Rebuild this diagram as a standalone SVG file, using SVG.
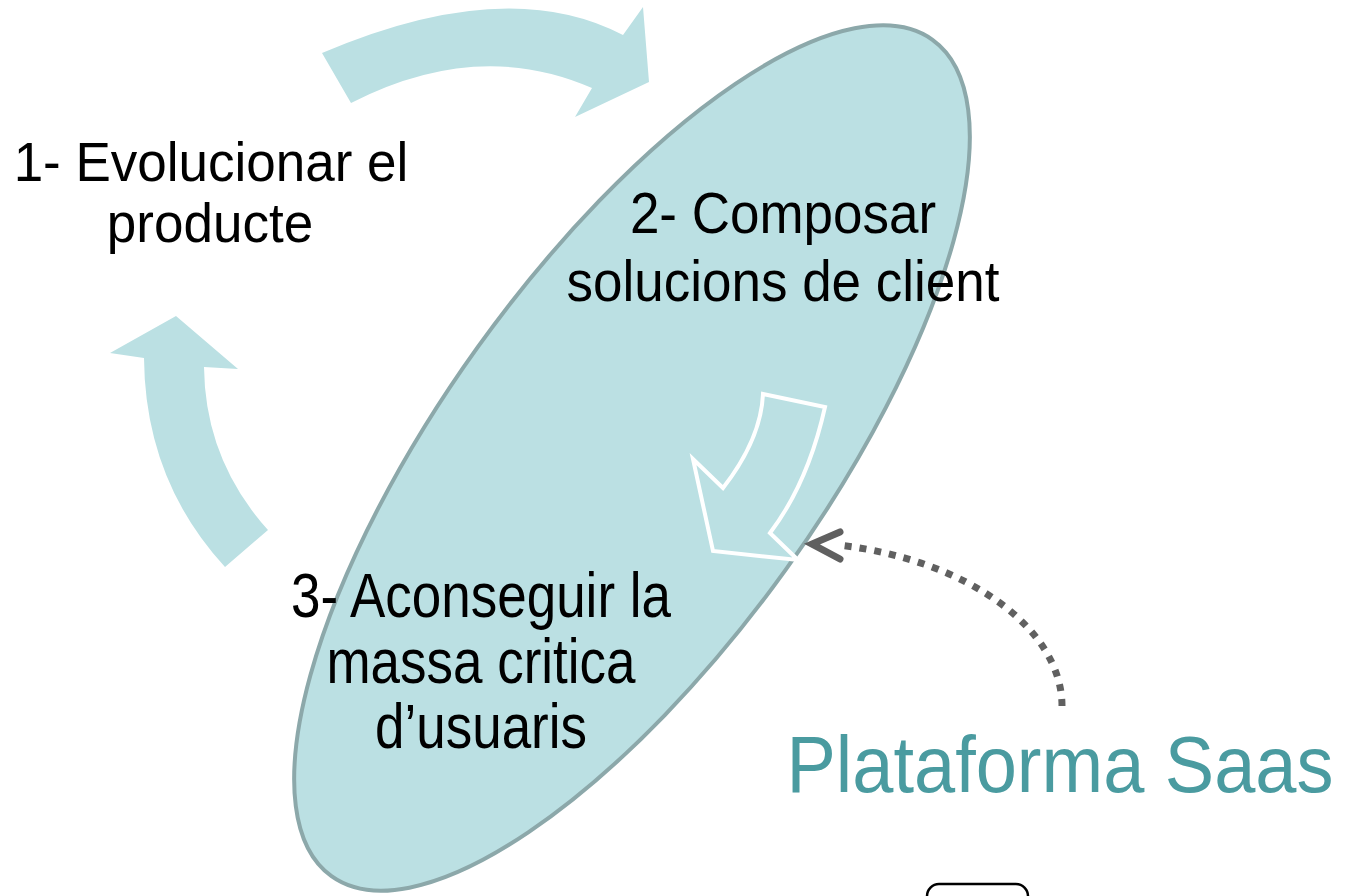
<svg xmlns="http://www.w3.org/2000/svg" width="1346" height="896" viewBox="0 0 1346 896">
<style>
.cyc{fill:#BBE0E3;stroke:none}
.lbl{font-family:"Liberation Sans",Arial,sans-serif;font-size:53px;fill:#000;text-anchor:middle}
.saas{font-family:"Liberation Sans",Arial,sans-serif;font-size:74px;fill:#4A9BA0;text-anchor:middle}
.dot{fill:none;stroke:#606060;stroke-width:7;stroke-dasharray:7 8}
.head{fill:none;stroke:#606060;stroke-width:7;stroke-linecap:round;stroke-linejoin:miter}
</style>
<rect width="1346" height="896" fill="#fff"/>
<g id="platform">
<ellipse cx="632" cy="458" rx="515" ry="190" transform="rotate(-54.3 632 458)" fill="#BBE0E3" stroke="#8CA8AA" stroke-width="4"/>
</g>
<g id="cycle-arrows">
<path class="cyc" d="M322,53 Q507,-26 623,35 L643,7 L649,82 L575,117 L592,88 Q478,38 351,103 Z"/>
<path class="cyc" d="M225,567 Q145,480 144,358 L110,353 L176,316 L238,369 L204,367 Q205,460 268,530 Z"/>
<path d="M763,394 L825,407 Q808,483 770,533 L798,560 L713,551 L693,459 L723,488 Q761,439 763,394 Z" fill="none" stroke="#fff" stroke-width="4" stroke-linejoin="miter"/>
</g>
<g id="step1">
<text class="lbl" transform="translate(211,181) scale(1,1.06)">1- Evolucionar el</text>
<text class="lbl" transform="translate(210,242) scale(1,1.06)">producte</text>
</g>
<g id="step2">
<text class="lbl" transform="translate(783,233) scale(1,1.09)">2- Composar</text>
<text class="lbl" transform="translate(783,301) scale(1,1.09)">solucions de client</text>
</g>
<g id="step3">
<text class="lbl" transform="translate(481,617) scale(1,1.18)">3- Aconseguir la</text>
<text class="lbl" transform="translate(481,683) scale(1,1.18)">massa critica</text>
<text class="lbl" transform="translate(481,748) scale(1,1.18)">d’usuaris</text>
</g>
<g id="saas"><text class="saas" transform="translate(1060,792) scale(1,1.07)">Plataforma Saas</text></g>
<g id="connectors">
<path class="dot" d="M1062,706 C1062,630 970,560 838,545"/>
<polyline class="head" points="840,532 812,544 840,559"/>
</g>
<g id="box"><rect x="927" y="884" width="101" height="40" rx="12" fill="none" stroke="#000" stroke-width="2.5"/></g>
</svg>
